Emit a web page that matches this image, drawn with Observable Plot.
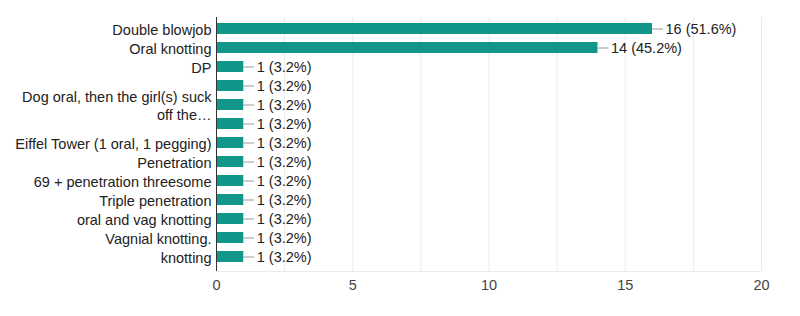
<!DOCTYPE html>
<html>
<head>
<meta charset="utf-8">
<script src="https://cdn.jsdelivr.net/npm/d3@7"></script>
<script src="https://cdn.jsdelivr.net/npm/@observablehq/plot@0.6"></script>
<style>
  html, body { margin: 0; padding: 0; background: #fff; }
</style>
</head>
<body>
<div id="chart"></div>
<script>
const categories = [
  "Double blowjob",
  "Oral knotting",
  "DP",
  "",
  "Dog oral, then the girl(s) suck\noff the…",
  "",
  "Eiffel Tower (1 oral, 1 pegging)",
  "Penetration",
  "69 + penetration threesome",
  "Triple penetration",
  "oral and vag knotting",
  "Vagnial knotting.",
  "knotting"
];
const counts = [16, 14, 1, 1, 1, 1, 1, 1, 1, 1, 1, 1, 1];
const percents = ["51.6%", "45.2%", "3.2%", "3.2%", "3.2%", "3.2%", "3.2%", "3.2%", "3.2%", "3.2%", "3.2%", "3.2%", "3.2%"];
const xTicks = [0, 5, 10, 15, 20];
const gridTicks = [0, 2.5, 5, 7.5, 10, 12.5, 15, 17.5, 20];

const data = categories.map((c, i) => ({id: i, label: c, count: counts[i], pct: percents[i]}));

const chart = Plot.plot({
  width: 800,
  height: 316,
  marginLeft: 216,
  marginRight: 39,
  marginTop: 17,
  marginBottom: 45,
  style: {fontFamily: "'Liberation Sans', Arial, sans-serif", fontSize: "14.5px", background: "#fff"},
  x: {domain: [0, 20]},
  y: {domain: data.map(d => d.id), range: [20, 265], paddingInner: 0.44, paddingOuter: 0},
  marks: [
    Plot.ruleX(gridTicks, {stroke: "#ebebeb", strokeWidth: 1}),
    Plot.frame({anchor: "bottom", stroke: "#ebebeb"}),
    Plot.barX(data, {x: "count", y: "id", fill: "#11968a"}),
    Plot.ruleX([0], {stroke: "#333", strokeWidth: 1}),
    Plot.ruleY(data, {y: "id", x1: "count", x2: d => d.count + 0.4, stroke: "#999"}),
    Plot.text(data, {x: "count", y: "id", text: d => `${d.count} (${d.pct})`, dx: 13, textAnchor: "start", fill: "#222", fontSize: 14.5}),
    Plot.axisY({tickFormat: i => categories[i], tickSize: 0, tickPadding: 5, fill: "#222", fontSize: 14.5, lineHeight: 1.25, label: null}),
    Plot.axisX({ticks: xTicks, tickSize: 0, tickPadding: 8, fill: "#444", fontSize: 14.5, label: null})
  ]
});
document.getElementById("chart").appendChild(chart);
</script>
</body>
</html>
